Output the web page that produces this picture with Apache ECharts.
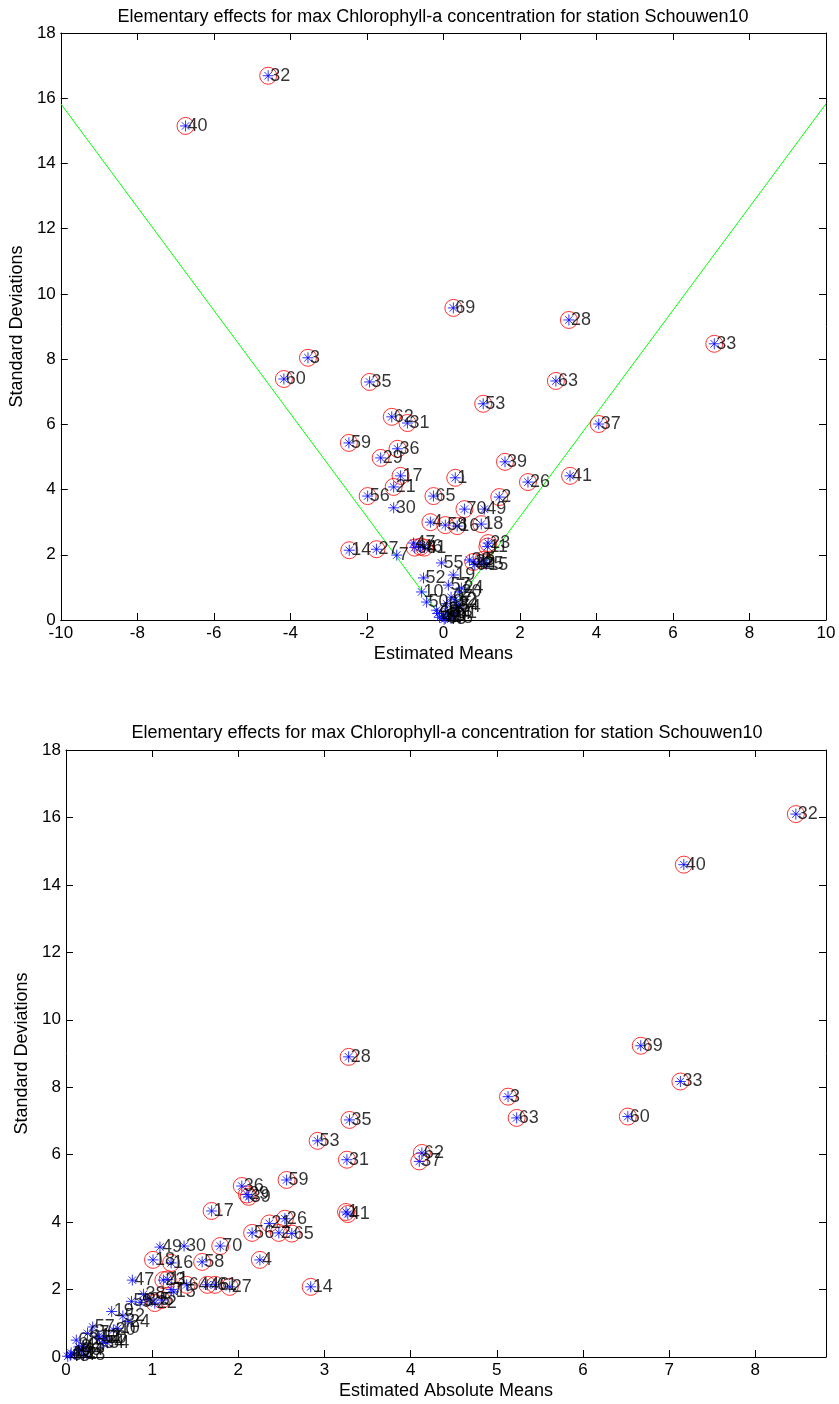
<!DOCTYPE html>
<html><head><meta charset="utf-8">
<script src="https://cdn.jsdelivr.net/npm/echarts@6/dist/echarts.min.js"></script>
<style>html,body{margin:0;padding:0;background:#fff}#c{width:839px;height:1404px}</style>
</head><body><div id="c"></div>
<script>
// Parameter ids 1..70
const paramIds = [];
for (let i = 1; i <= 70; i++) paramIds.push(i);
// Top chart: estimated means (x) and standard deviations (y)
const estMeans = [0.31,1.46,-3.54,-0.34,1.04,0.05,-1.22,0.10,0.82,-0.57,
  1.15,0.30,0.00,-2.46,1.12,0.36,-1.12,0.99,0.26,0.42,
  -1.30,0.78,1.17,0.47,1.00,2.21,-1.75,3.28,-1.64,-1.30,
  -0.94,-4.58,7.08,0.35,-1.93,-1.20,4.06,0.68,1.61,-6.74,
  3.31,-0.10,0.02,0.15,-0.18,-0.60,-0.78,0.20,1.07,-0.44,
  0.30,-0.52,1.04,0.40,-0.05,-1.98,0.13,0.05,-2.47,-4.17,
  -0.50,-1.35,2.94,-0.75,-0.26,-0.15,0.20,0.08,0.26,0.55];
const stdDevs = [4.36,3.77,8.04,3.00,1.84,0.05,1.99,0.25,1.70,0.86,
  2.25,0.62,0.12,2.14,1.70,2.88,4.42,2.94,1.38,0.86,
  4.08,1.78,2.36,0.98,1.72,4.23,2.17,9.20,4.97,3.44,
  6.04,16.69,8.47,0.45,7.30,5.25,6.01,1.84,4.85,15.15,
  4.42,0.08,0.02,0.18,0.30,2.25,2.36,0.05,3.40,0.55,
  0.20,1.29,6.63,0.40,1.75,3.80,1.07,2.91,5.43,7.39,
  2.22,6.23,7.33,2.22,3.80,0.20,0.70,0.50,9.57,3.40];
// Bottom chart: estimated absolute means (x) and standard deviations (y)
const absMeans = [3.25,2.47,5.13,2.25,1.11,0.05,1.22,0.15,0.86,0.60,
  1.18,0.38,0.06,2.84,1.25,1.22,1.69,1.01,0.53,0.55,
  2.36,1.03,1.13,0.72,0.95,2.54,1.90,3.28,2.10,1.37,
  3.26,8.47,7.13,0.42,3.29,2.04,4.10,0.90,2.12,7.17,
  3.27,0.10,0.02,0.18,0.20,1.64,0.77,0.20,1.09,0.45,
  0.39,0.66,2.92,0.48,0.76,2.16,0.31,1.58,2.56,6.52,
  1.73,4.13,5.23,1.40,2.62,0.15,0.25,0.12,6.67,1.79];
const absStdDevs = [4.30,3.68,7.72,2.88,1.69,0.05,2.00,0.30,1.62,0.85,
  2.30,0.62,0.12,2.08,1.93,2.79,4.33,2.88,1.35,0.80,
  3.96,1.60,2.28,1.05,1.70,4.10,2.08,8.90,4.82,3.29,
  5.85,16.10,8.17,0.40,7.03,5.07,5.80,1.86,4.75,14.60,
  4.24,0.08,0.02,0.20,0.32,2.14,2.28,0.06,3.26,0.56,
  0.56,1.22,6.41,0.42,1.65,3.68,0.89,2.82,5.25,7.13,
  2.14,6.05,7.09,2.14,3.66,0.22,0.70,0.50,9.23,3.29];
// 1 = marked with a red circle
const circled = [1,1,1,1,1,0,0,0,0,0,
  1,0,0,1,0,1,1,1,0,0,
  1,1,1,0,0,1,1,1,1,0,
  1,1,1,0,1,1,1,0,1,1,
  1,0,0,0,0,1,0,0,0,0,
  0,0,1,0,0,1,0,1,1,1,
  1,1,1,1,1,0,0,0,1,1];
// Green boundary lines in top chart
const boundX = [-10, 0, 10];
const boundY = [15.83, 0, 15.83];

const titleText = 'Elementary effects for max Chlorophyll-a concentration for station Schouwen10';
const FONT = "'Liberation Sans', Arial, Helvetica, sans-serif";
const STAR = 'path://M5,0L5,10M0,5L10,5M1.6,1.6L8.4,8.4M1.6,8.4L8.4,1.6';

function pts(xs, ys, onlyCircled) {
  const out = [];
  for (let i = 0; i < paramIds.length; i++) {
    if (onlyCircled && !circled[i]) continue;
    out.push([xs[i], ys[i], paramIds[i]]);
  }
  return out;
}

function axisX(grid, min, max, interval, name, pos) {
  const main = pos === 'bottom';
  return {
    gridIndex: grid, type: 'value', min: min, max: max, interval: interval, position: pos,
    name: main ? name : '', nameLocation: 'middle', nameGap: 25,
    nameTextStyle: {fontFamily: FONT, fontSize: 18, color: '#000'},
    axisLine: {show: true, onZero: false, lineStyle: {color: '#000', width: 1}},
    axisTick: {show: true, inside: true, length: 7, lineStyle: {color: '#000'}},
    axisLabel: {show: main, margin: 5, fontFamily: FONT, fontSize: 17, color: '#000',
      showMaxLabel: true,
      formatter: v => (Math.abs(v - Math.round(v / interval) * interval) < 1e-6 ? String(Math.round(v)) : '')},
    splitLine: {show: false}
  };
}
function axisY(grid, name, pos) {
  const main = pos === 'left';
  return {
    gridIndex: grid, type: 'value', min: 0, max: 18, interval: 2, position: pos,
    name: main ? name : '', nameLocation: 'middle', nameGap: 31,
    nameTextStyle: {fontFamily: FONT, fontSize: 18, color: '#000'},
    axisLine: {show: true, onZero: false, lineStyle: {color: '#000', width: 1}},
    axisTick: {show: true, inside: true, length: 7, lineStyle: {color: '#000'}},
    axisLabel: {show: main, margin: 5, fontFamily: FONT, fontSize: 17, color: '#000'},
    splitLine: {show: false}
  };
}

function circleSeries(xi, yi, data) {
  return {type: 'scatter', xAxisIndex: xi, yAxisIndex: yi, data: data, symbol: 'circle', symbolSize: 17,
    silent: true, z: 2,
    itemStyle: {color: 'rgba(0,0,0,0)', borderColor: '#ff0000', borderWidth: 1}};
}
function starSeries(xi, yi, data) {
  return {type: 'scatter', xAxisIndex: xi, yAxisIndex: yi, data: data, symbol: STAR, symbolSize: 11,
    silent: true, z: 3,
    itemStyle: {color: 'rgba(0,0,0,0)', borderColor: '#0000ff', borderWidth: 1},
    label: {show: true, position: 'right', distance: -4, formatter: p => String(p.data[2]),
      fontFamily: FONT, fontSize: 18, color: '#000'}};
}

const chart = echarts.init(document.getElementById('c'), null, {renderer: 'canvas'});
chart.setOption({
  animation: false,
  backgroundColor: '#fff',
  title: [
    {text: titleText, left: 428, top: 3, textAlign: 'center',
      textStyle: {fontFamily: FONT, fontSize: 18, fontWeight: 'normal', color: '#000'}},
    {text: titleText, left: 442, top: 719, textAlign: 'center',
      textStyle: {fontFamily: FONT, fontSize: 18, fontWeight: 'normal', color: '#000'}}
  ],
  grid: [
    {left: 58, top: 33, width: 768, height: 587, containLabel: false},
    {left: 66, top: 750, width: 760, height: 607, containLabel: false}
  ],
  xAxis: [
    axisX(0, -10, 10, 2, 'Estimated Means', 'bottom'),
    axisX(0, -10, 10, 2, '', 'top'),
    axisX(1, 0, 8.82, 1, 'Estimated Absolute Means', 'bottom'),
    axisX(1, 0, 8.82, 1, '', 'top')
  ],
  yAxis: [
    axisY(0, 'Standard Deviations', 'left'),
    axisY(0, '', 'right'),
    axisY(1, 'Standard Deviations', 'left'),
    axisY(1, '', 'right')
  ],
  series: [
    {type: 'line', xAxisIndex: 0, yAxisIndex: 0, data: boundX.map((x, i) => [x, boundY[i]]),
      symbol: 'none', silent: true, z: 1, lineStyle: {color: '#00ff00', width: 1}},
    circleSeries(0, 0, pts(estMeans, stdDevs, true)),
    starSeries(0, 0, pts(estMeans, stdDevs, false)),
    circleSeries(2, 2, pts(absMeans, absStdDevs, true)),
    starSeries(2, 2, pts(absMeans, absStdDevs, false))
  ]
});
</script>
</body></html>
